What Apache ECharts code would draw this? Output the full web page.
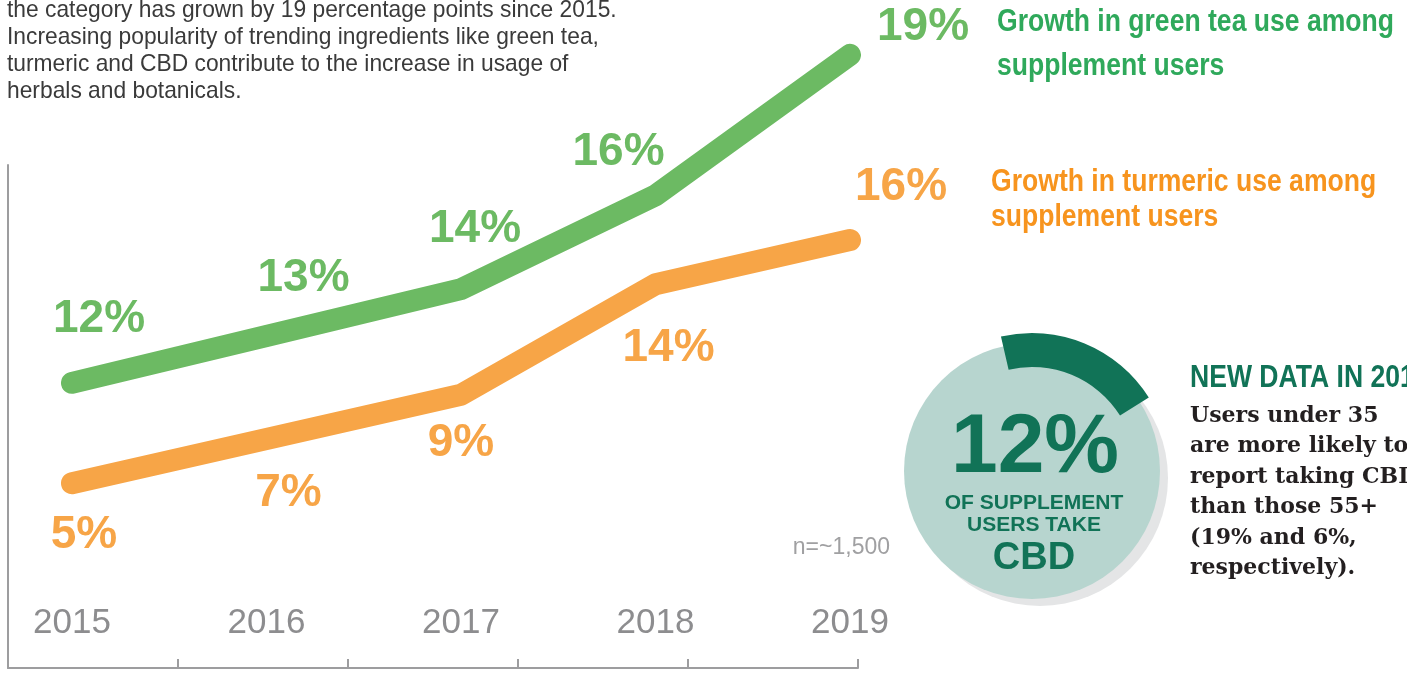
<!DOCTYPE html>
<html>
<head>
<meta charset="utf-8">
<script src="https://cdn.jsdelivr.net/npm/echarts@6/dist/echarts.min.js"></script>
<style>
html,body{margin:0;padding:0;background:#fff;}
#chart{width:1407px;height:673px;}
</style>
</head>
<body>
<div id="chart"></div>
<script>
// ---- data ----
const years = ['2015', '2016', '2017', '2018', '2019'];
const greenTea = [12, 13, 14, 16, 19];
const turmeric = [5, 7, 9, 14, 16];
const cbdShare = 12;
const frameTicks = [0, 1, 2, 3, 4, 5];

// ---- layout / style ----
const greenLabelOffsets = [[27, -64], [37, -58], [14, -60], [-37, -43], [73, -28]];
const orangeLabelOffsets = [[12, 52], [22, 54], [0, 49], [13, 64], [51, -53]];
const GREEN = '#6cba63';
const ORANGE = '#f7a547';
const DARK = '#117357';
const SANS = "'Liberation Sans',Arial,sans-serif";
const SERIF = "'DejaVu Serif','Liberation Serif',serif";

function labelled(values, offsets) {
  return values.map((v, i) => ({
    value: v,
    label: { offset: offsets[i] }
  }));
}

const chart = echarts.init(document.getElementById('chart'), null, { renderer: 'canvas' });

const labelBase = (color) => ({
  show: true,
  position: 'inside',
  formatter: '{c}%',
  color: color,
  fontFamily: SANS,
  fontWeight: 'bold',
  fontSize: 46
});

const option = {
  animation: false,
  backgroundColor: '#ffffff',
  grid: [
    { left: 72, right: 557, top: 8, bottom: 79.3, containLabel: false },
    { left: 8, right: 549, top: 165, bottom: 5, containLabel: false }
  ],
  xAxis: [
    {
      gridIndex: 0, type: 'category', data: years, boundaryGap: false,
      axisLine: { show: false }, axisTick: { show: false }, splitLine: { show: false },
      axisLabel: { color: '#8d8d8f', fontFamily: SANS, fontSize: 35, margin: 12 }
    },
    {
      gridIndex: 1, type: 'value', min: frameTicks[0], max: frameTicks[frameTicks.length - 1], interval: 1,
      axisLine: { show: true, lineStyle: { color: '#9d9d9f', width: 2 } },
      axisTick: { show: true, inside: true, length: 9, lineStyle: { color: '#9d9d9f', width: 2 } },
      axisLabel: { show: false }, splitLine: { show: false }
    }
  ],
  yAxis: [
    { gridIndex: 0, type: 'value', min: 7.5, max: 20, show: false, splitLine: { show: false } },
    { gridIndex: 0, type: 'value', min: 0, max: 26.5, show: false, splitLine: { show: false } },
    {
      gridIndex: 1, type: 'value', min: 0, max: 1,
      axisLine: { show: true, lineStyle: { color: '#9d9d9f', width: 2 } },
      axisTick: { show: false }, axisLabel: { show: false }, splitLine: { show: false }
    }
  ],
  series: [
    {
      name: 'Turmeric', type: 'line', xAxisIndex: 0, yAxisIndex: 1,
      data: labelled(turmeric, orangeLabelOffsets),
      symbol: 'circle', symbolSize: 0.1, itemStyle: { color: ORANGE },
      lineStyle: { color: ORANGE, width: 22, cap: 'round', join: 'round' },
      label: labelBase(ORANGE), z: 3
    },
    {
      name: 'Green tea', type: 'line', xAxisIndex: 0, yAxisIndex: 0,
      data: labelled(greenTea, greenLabelOffsets),
      symbol: 'circle', symbolSize: 0.1, itemStyle: { color: GREEN },
      lineStyle: { color: GREEN, width: 22, cap: 'round', join: 'round' },
      label: labelBase(GREEN), z: 4
    },
    {
      name: 'CBD', type: 'gauge', center: [1032, 471], radius: 138,
      startAngle: 103, endAngle: -257, min: 0, max: 61,
      pointer: { show: false }, anchor: { show: false },
      axisLine: { show: false }, axisTick: { show: false }, splitLine: { show: false },
      axisLabel: { show: false }, title: { show: false }, detail: { show: false },
      progress: { show: true, width: 34, roundCap: false, itemStyle: { color: DARK } },
      data: [{ value: cbdShare }], z: 3
    }
  ],
  graphic: [
    { type: 'circle', z: 1, shape: { cx: 1040, cy: 478, r: 128 }, style: { fill: '#e4e5e6' } },
    { type: 'circle', z: 2, shape: { cx: 1032, cy: 471, r: 128 }, style: { fill: '#b7d5cf' } },
    {
      type: 'text', z: 5, x: 7, y: -3.5,
      style: {
        text: 'the category has grown by 19 percentage points since 2015.\nIncreasing popularity of trending ingredients like green tea,\nturmeric and CBD contribute to the increase in usage of\nherbals and botanicals.',
        font: '24px ' + SANS, fill: '#3a3a3a', lineHeight: 27, verticalAlign: 'top'
      },
      scaleX: 0.95
    },
    {
      type: 'text', z: 5, x: 997, y: 0, scaleX: 0.83,
      style: { text: 'Growth in green tea use among\nsupplement users', font: 'bold 32px ' + SANS, fill: '#2fa95b', lineHeight: 44, verticalAlign: 'top' }
    },
    {
      type: 'text', z: 5, x: 991, y: 164.5, scaleX: 0.83,
      style: { text: 'Growth in turmeric use among\nsupplement users', font: 'bold 32px ' + SANS, fill: '#f7941e', lineHeight: 35, verticalAlign: 'top' }
    },
    {
      type: 'text', z: 5, x: 890, y: 548,
      style: { text: 'n=~1,500', font: '23px ' + SANS, fill: '#a0a0a2', align: 'right', verticalAlign: 'middle' }
    },
    {
      type: 'text', z: 5, x: 1035, y: 449,
      style: { text: '12%', font: 'bold 84px ' + SANS, fill: DARK, align: 'center', verticalAlign: 'middle' }
    },
    {
      type: 'text', z: 5, x: 1034, y: 514,
      style: { text: 'OF SUPPLEMENT\nUSERS TAKE', font: 'bold 21px ' + SANS, fill: DARK, align: 'center', verticalAlign: 'middle', lineHeight: 22 }
    },
    {
      type: 'text', z: 5, x: 1034, y: 559,
      style: { text: 'CBD', font: 'bold 38px ' + SANS, fill: DARK, align: 'center', verticalAlign: 'middle' }
    },
    {
      type: 'text', z: 5, x: 1190, y: 378, scaleX: 0.83,
      style: { text: 'NEW DATA IN 2019', font: 'bold 32px ' + SANS, fill: DARK, verticalAlign: 'middle' }
    },
    {
      type: 'text', z: 5, x: 1190, y: 401,
      style: {
        text: 'Users under 35\nare more likely to\nreport taking CBD\nthan those 55+\n(19% and 6%,\nrespectively).',
        font: 'bold 22px ' + SERIF, fill: '#231f20', lineHeight: 30.4, verticalAlign: 'top'
      }
    }
  ]
};

chart.setOption(option);
</script>
</body>
</html>
